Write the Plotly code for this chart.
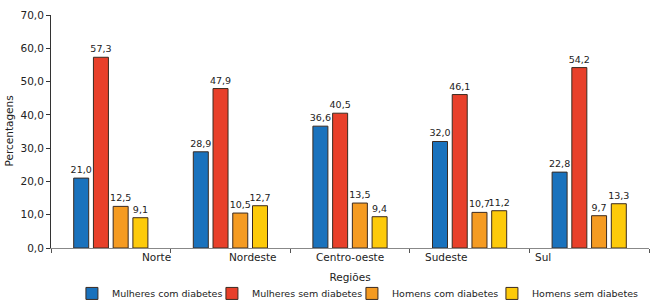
import plotly.graph_objects as go

regioes = ["Norte", "Nordeste", "Centro-oeste", "Sudeste", "Sul"]
series_names = ["Mulheres com diabetes", "Mulheres sem diabetes",
                "Homens com diabetes", "Homens sem diabetes"]
mulheres_com = [21.0, 28.9, 36.6, 32.0, 22.8]
mulheres_sem = [57.3, 47.9, 40.5, 46.1, 54.2]
homens_com = [12.5, 10.5, 13.5, 10.7, 9.7]
homens_sem = [9.1, 12.7, 9.4, 11.2, 13.3]
y_ticks = [0, 10, 20, 30, 40, 50, 60, 70]

colors = ["#1a72bd", "#e8402a", "#f59b22", "#fdca0a"]
values = [mulheres_com, mulheres_sem, homens_com, homens_sem]

FONT = "DejaVu Sans"
FS = 10.5

fig = go.Figure()
for k, (name, vals, col) in enumerate(zip(series_names, values, colors)):
    fig.add_trace(go.Bar(
        x=regioes, y=vals, name=name,
        marker=dict(color=col, line=dict(color="#3a2a20", width=1)),
        texttemplate="%{y:.1f}", textposition="outside",
        constraintext="none",
        textfont=dict(family=FONT, size=9.5, color="#222"),
        cliponaxis=False,
        legendwidth=118 if k == len(series_names) - 1 else 95,
    ))

# category labels drawn offset like the original (spread unevenly under groups)
for i, r in enumerate(regioes):
    fig.add_annotation(x=0.385 + 0.8075 * i, y=0, xref="x", yref="y",
                       text=r, showarrow=False, yshift=-9, yanchor="middle",
                       font=dict(family=FONT, size=FS, color="#222"))

# y-axis title placed at the far left like the original
fig.add_annotation(x=0, y=0.5, xref="paper", yref="paper", xshift=-51,
                   xanchor="left", yanchor="middle", textangle=-90,
                   text="Percentagens", showarrow=False,
                   font=dict(family=FONT, size=FS, color="#222"))

fig.update_layout(
    width=650, height=302,
    separators=",.",
    barmode="group", bargap=0.34, bargroupgap=0.24,
    margin=dict(l=51, r=1, t=15, b=54, autoexpand=False),
    paper_bgcolor="white", plot_bgcolor="white",
    font=dict(family=FONT, size=FS, color="#222"),
    showlegend=True,
    legend=dict(orientation="h", x=0.035, xanchor="left", y=-0.195,
                yanchor="middle", font=dict(family=FONT, size=9.5),
                itemwidth=30, traceorder="normal",
                entrywidthmode="pixels"),
    xaxis=dict(showticklabels=False, ticks="outside", tickson="boundaries",
               ticklen=4, tickcolor="#555", showline=True, linecolor="#888",
               linewidth=1, showgrid=False, automargin=False,
               title=dict(text="Regiões", standoff=25,
                          font=dict(family=FONT, size=FS))),
    yaxis=dict(range=[0, 70], tickvals=y_ticks, tickformat=".1f",
               ticks="outside", ticklen=4, tickcolor="#333",
               showline=True, linecolor="#333", linewidth=1,
               showgrid=False, zeroline=False, automargin=False),
)

fig.write_html("out.html", config={"displayModeBar": False},
               post_script="document.body.style.margin='0';")
